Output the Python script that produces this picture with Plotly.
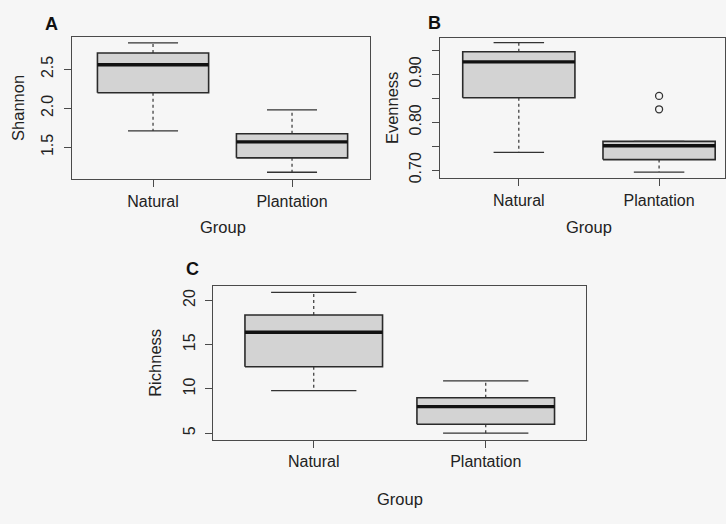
import plotly.graph_objects as go

# ---------------- data ----------------
groups = ["Natural", "Plantation"]

shannon_low = [1.71, 1.18]
shannon_q1 = [2.20, 1.365]
shannon_med = [2.56, 1.57]
shannon_q3 = [2.71, 1.675]
shannon_high = [2.84, 1.98]
shannon_out = [[], []]

evenness_low = [0.737, 0.696]
evenness_q1 = [0.851, 0.722]
evenness_med = [0.926, 0.751]
evenness_q3 = [0.947, 0.760]
evenness_high = [0.966, 0.760]
evenness_out = [[], [0.855, 0.827]]

richness_low = [9.8, 5.0]
richness_q1 = [12.5, 6.0]
richness_med = [16.4, 8.0]
richness_q3 = [18.35, 9.0]
richness_high = [20.9, 10.9]
richness_out = [[], []]

shannon_ticks = [1.5, 2.0, 2.5]
shannon_ticktext = ["1.5", "2.0", "2.5"]
evenness_ticks = [0.70, 0.75, 0.80, 0.85, 0.90, 0.95]
evenness_ticktext = ["0.70", "", "0.80", "", "0.90", ""]
richness_ticks = [5, 10, 15, 20]
richness_ticktext = ["5", "10", "15", "20"]

# ---------------- layout constants ----------------
W, H = 726, 524
BG = "#f6f6f6"
FILL = "#d3d3d3"
INK = "#222222"
FRAME = "#4a4a4a"
FONT = "Liberation Sans, Arial, sans-serif"
BOXW = 0.8


def fx(p):
    return p / W


def fy(p):
    return 1 - p / H


panels = [
    dict(key="A", ylabel="Shannon", low=shannon_low, q1=shannon_q1, med=shannon_med,
         q3=shannon_q3, high=shannon_high, out=shannon_out,
         ticks=shannon_ticks, ticktext=shannon_ticktext,
         px=(72, 370), py=(37, 181), xr=(0.417, 2.561), yr=(1.09, 2.92),
         cap=0.45, ylab_x=18, letter=(51, 24), xlab_y=229),
    dict(key="B", ylabel="Evenness", low=evenness_low, q1=evenness_q1, med=evenness_med,
         q3=evenness_q3, high=evenness_high, out=evenness_out,
         ticks=evenness_ticks, ticktext=evenness_ticktext,
         px=(440, 725), py=(38.3, 180), xr=(0.438, 2.47), yr=(0.683, 0.976),
         cap=0.45, ylab_x=392, letter=(434, 23), xlab_y=229),
    dict(key="C", ylabel="Richness", low=richness_low, q1=richness_q1, med=richness_med,
         q3=richness_q3, high=richness_high, out=richness_out,
         ticks=richness_ticks, ticktext=richness_ticktext,
         px=(213.3, 586), py=(288.3, 444.3), xr=(0.416, 2.583), yr=(4.22, 21.68),
         cap=0.62, ylab_x=155, letter=(192, 272), xlab_y=504),
]

fig = go.Figure()
annotations = []
layout_axes = {}

for i, p in enumerate(panels, start=1):
    xa = "x" if i == 1 else f"x{i}"
    ya = "y" if i == 1 else f"y{i}"
    for g in range(len(groups)):
        c = g + 1
        hw = BOXW / 2
        cw = BOXW * p["cap"] / 2
        # box
        fig.add_trace(go.Scatter(
            x=[c - hw, c + hw, c + hw, c - hw, c - hw],
            y=[p["q1"][g], p["q1"][g], p["q3"][g], p["q3"][g], p["q1"][g]],
            mode="lines", fill="toself", fillcolor=FILL,
            line=dict(color="#2a2a2a", width=1.6),
            xaxis=xa, yaxis=ya, showlegend=False, hoverinfo="skip"))
        # median
        fig.add_trace(go.Scatter(
            x=[c - hw, c + hw], y=[p["med"][g], p["med"][g]], mode="lines",
            line=dict(color="#111111", width=3.4),
            xaxis=xa, yaxis=ya, showlegend=False, hoverinfo="skip"))
        # whiskers (dashed)
        for a, b in ((p["q3"][g], p["high"][g]), (p["q1"][g], p["low"][g])):
            if abs(a - b) > 1e-9:
                fig.add_trace(go.Scatter(
                    x=[c, c], y=[a, b], mode="lines",
                    line=dict(color="#333333", width=1.2, dash="3px,3px"),
                    xaxis=xa, yaxis=ya, showlegend=False, hoverinfo="skip"))
        # caps
        for v in (p["high"][g], p["low"][g]):
            fig.add_trace(go.Scatter(
                x=[c - cw, c + cw], y=[v, v], mode="lines",
                line=dict(color="#333333", width=1.3),
                xaxis=xa, yaxis=ya, showlegend=False, hoverinfo="skip"))
        # outliers
        if p["out"][g]:
            fig.add_trace(go.Scatter(
                x=[c] * len(p["out"][g]), y=p["out"][g], mode="markers",
                marker=dict(symbol="circle-open", size=7,
                            line=dict(color="#333333", width=1.3), color="#333333"),
                xaxis=xa, yaxis=ya, showlegend=False, hoverinfo="skip"))

    xkey = "xaxis" if i == 1 else f"xaxis{i}"
    ykey = "yaxis" if i == 1 else f"yaxis{i}"
    layout_axes[xkey] = dict(
        domain=[fx(p["px"][0]), fx(p["px"][1])], range=list(p["xr"]),
        anchor=ya, tickvals=[1, 2], ticktext=groups, ticks="outside", ticklen=7,
        tickcolor=FRAME, tickwidth=1.2, showline=True, mirror=True,
        linecolor=FRAME, linewidth=1.3, showgrid=False, zeroline=False,
        tickfont=dict(family=FONT, size=16, color=INK), fixedrange=True)
    layout_axes[ykey] = dict(
        domain=[fy(p["py"][1]), fy(p["py"][0])], range=list(p["yr"]),
        anchor=xa, tickvals=p["ticks"], ticktext=p["ticktext"], ticks="outside",
        ticklen=7, tickcolor=FRAME, tickwidth=1.2, showline=True, mirror=True,
        linecolor=FRAME, linewidth=1.3, showgrid=False, zeroline=False,
        tickangle=-90, ticklabelstandoff=4,
        tickfont=dict(family=FONT, size=16, color=INK), fixedrange=True)

    # y axis title
    annotations.append(dict(
        text=p["ylabel"], x=fx(p["ylab_x"]), y=fy((p["py"][0] + p["py"][1]) / 2),
        xref="paper", yref="paper", showarrow=False, textangle=-90,
        xanchor="center", yanchor="middle",
        font=dict(family=FONT, size=16.5, color=INK)))
    # x axis title (centred between the two groups)
    x0, x1 = p["px"]
    r0, r1 = p["xr"]
    xmid = x0 + (x1 - x0) * (1.5 - r0) / (r1 - r0)
    annotations.append(dict(
        text="Group", x=fx(xmid), y=fy(p["xlab_y"]),
        xref="paper", yref="paper", showarrow=False,
        xanchor="center", yanchor="middle",
        font=dict(family=FONT, size=16.5, color=INK)))
    # panel letter
    annotations.append(dict(
        text=f"<b>{p['key']}</b>", x=fx(p["letter"][0]), y=fy(p["letter"][1]),
        xref="paper", yref="paper", showarrow=False,
        xanchor="center", yanchor="middle",
        font=dict(family=FONT, size=18, color="#111111")))

fig.update_layout(
    width=W, height=H, margin=dict(l=0, r=0, t=0, b=0),
    paper_bgcolor=BG, plot_bgcolor=BG, showlegend=False,
    annotations=annotations, **layout_axes)

fig.write_html(
    "out.html", config={"displayModeBar": False},
    post_script="document.body.style.margin='0';document.body.style.background='%s';" % BG)
